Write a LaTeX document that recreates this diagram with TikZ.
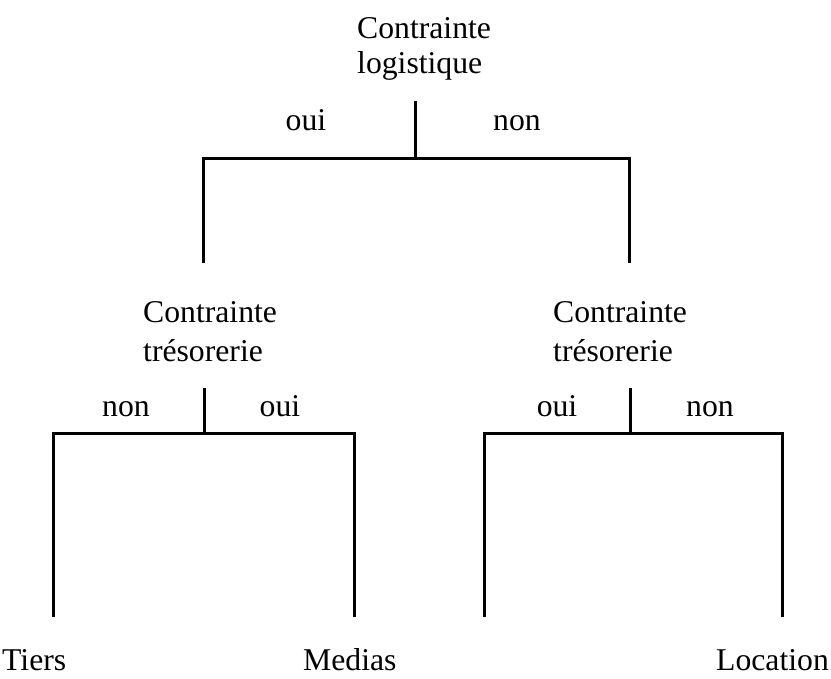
\documentclass[tikz,border=0pt]{standalone}
\usepackage{fontspec}
\setmainfont{Liberation Serif}
\begin{document}
\begin{tikzpicture}[x=1pt,y=-1pt,
  lbl/.style={inner sep=0pt, anchor=base west, font=\fontsize{31.7}{38}\selectfont},
  lbc/.style={inner sep=0pt, anchor=base, font=\fontsize{31.7}{38}\selectfont},
  tline/.style={line width=3pt, line join=miter, line cap=butt}]
\useasboundingbox (0,0) rectangle (831,679);
% top decision
\node[lbl] (c1a) at (357,39) {Contrainte};
\node[lbl] (c1b) at (357,74) {logistique};
\node[lbc] (o1) at (306,131) {oui};
\node[lbc] (n1) at (517,131) {non};
\coordinate (j1top) at (415,101);
\coordinate (j1) at (415,159);
\coordinate (l1) at (203,159);
\coordinate (r1) at (629,159);
\coordinate (l1b) at (203,263);
\coordinate (r1b) at (629,263);
\draw[tline] (j1top) -- (j1);
\draw[tline] (l1b) -- (l1) -- (r1) -- (r1b);
% left sub decision
\node[lbl] (c2a) at (143,323) {Contrainte};
\node[lbl] (c2b) at (143,362) {trésorerie};
\node[lbc] (n2) at (126,417) {non};
\node[lbc] (o2) at (280,417) {oui};
\coordinate (j2top) at (204,388);
\coordinate (j2) at (204,433);
\coordinate (l2) at (53,433);
\coordinate (r2) at (354,433);
\coordinate (l2b) at (53,617);
\coordinate (r2b) at (354,617);
\draw[tline] (j2top) -- (j2);
\draw[tline] (l2b) -- (l2) -- (r2) -- (r2b);
% right sub decision
\node[lbl] (c3a) at (553,323) {Contrainte};
\node[lbl] (c3b) at (553,362) {trésorerie};
\node[lbc] (o3) at (557,417) {oui};
\node[lbc] (n3) at (710,417) {non};
\coordinate (j3top) at (630,388);
\coordinate (j3) at (630,433);
\coordinate (l3) at (484,433);
\coordinate (r3) at (782,433);
\coordinate (l3b) at (484,617);
\coordinate (r3b) at (782,617);
\draw[tline] (j3top) -- (j3);
\draw[tline] (l3b) -- (l3) -- (r3) -- (r3b);
% leaves
\node[lbl] (tiers) at (2,670) {Tiers};
\node[lbl] (medias) at (303,670) {Medias};
\node[lbl] (loc) at (716,670) {Location};
\end{tikzpicture}
\end{document}
